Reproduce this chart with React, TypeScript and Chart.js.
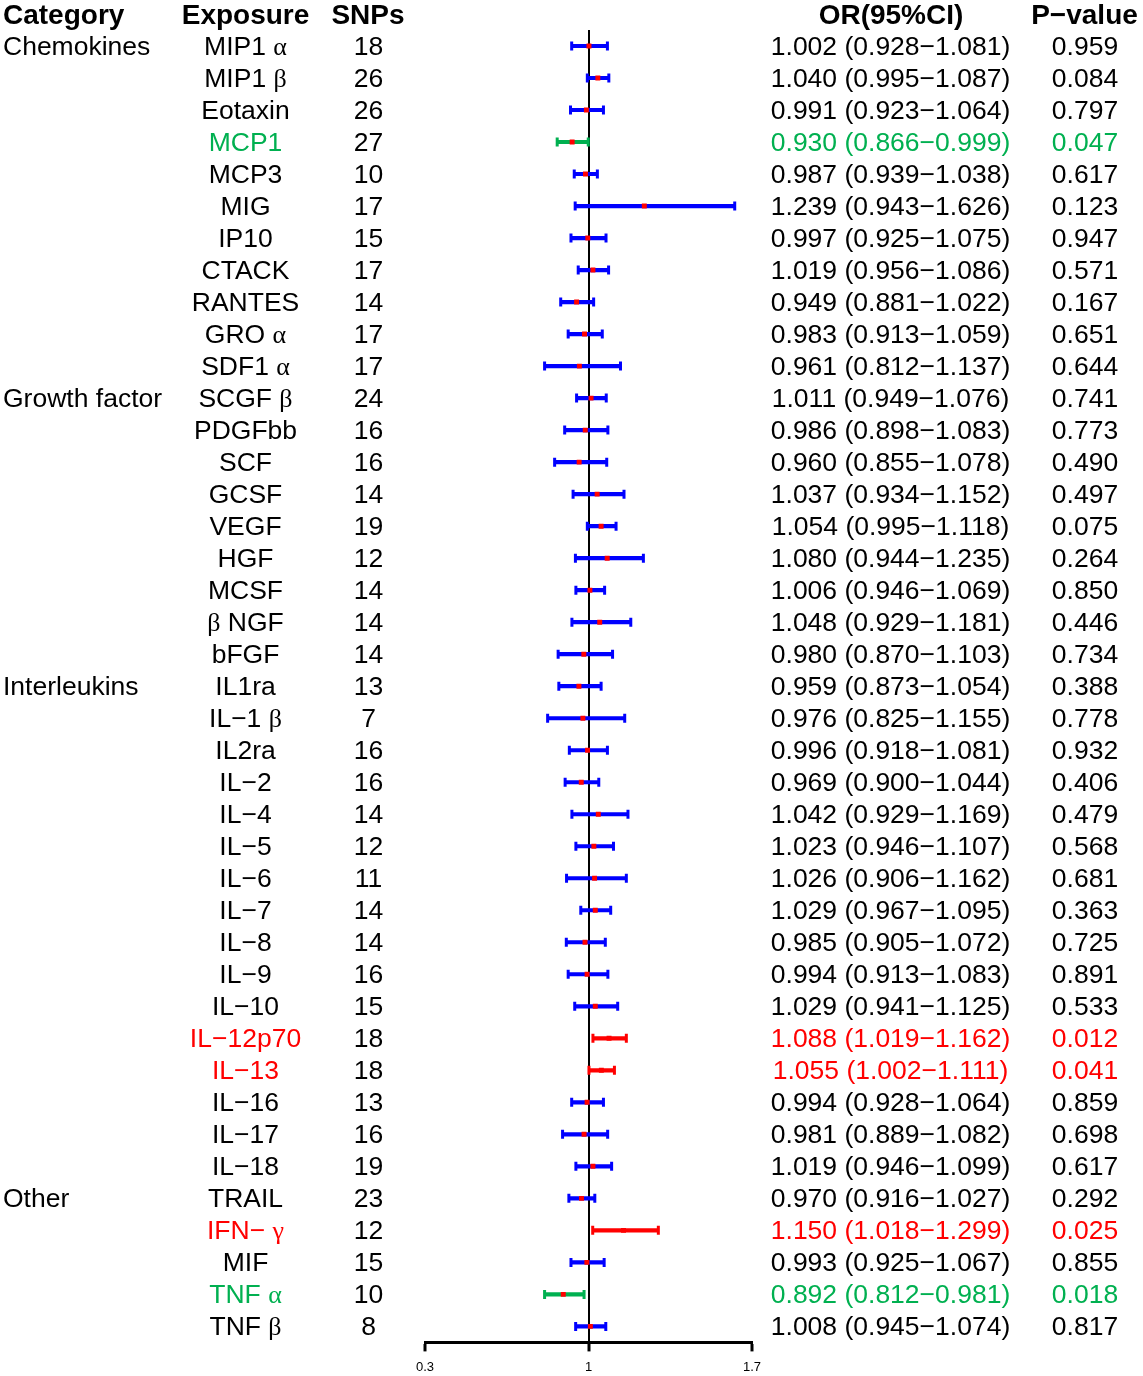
import React, { useEffect, useRef } from 'react';
import { Chart, registerables } from 'chart.js';

Chart.register(...registerables);

const categoryLabels = ['Chemokines', '', '', '', '', '', '', '', '', '', '',
  'Growth factor', '', '', '', '', '', '', '', '',
  'Interleukins', '', '', '', '', '', '', '', '', '', '', '', '', '', '', '',
  'Other', '', '', '', ''];

const exposures = ['MIP1 α', 'MIP1 β', 'Eotaxin', 'MCP1', 'MCP3', 'MIG', 'IP10', 'CTACK', 'RANTES', 'GRO α', 'SDF1 α',
  'SCGF β', 'PDGFbb', 'SCF', 'GCSF', 'VEGF', 'HGF', 'MCSF', 'β NGF', 'bFGF',
  'IL1ra', 'IL−1 β', 'IL2ra', 'IL−2', 'IL−4', 'IL−5', 'IL−6', 'IL−7', 'IL−8', 'IL−9', 'IL−10', 'IL−12p70', 'IL−13', 'IL−16', 'IL−17', 'IL−18',
  'TRAIL', 'IFN− γ', 'MIF', 'TNF α', 'TNF β'];

const snps = [18, 26, 26, 27, 10, 17, 15, 17, 14, 17, 17,
  24, 16, 16, 14, 19, 12, 14, 14, 14,
  13, 7, 16, 16, 14, 12, 11, 14, 14, 16, 15, 18, 18, 13, 16, 19,
  23, 12, 15, 10, 8];

const orValues = [1.002, 1.040, 0.991, 0.930, 0.987, 1.239, 0.997, 1.019, 0.949, 0.983, 0.961,
  1.011, 0.986, 0.960, 1.037, 1.054, 1.080, 1.006, 1.048, 0.980,
  0.959, 0.976, 0.996, 0.969, 1.042, 1.023, 1.026, 1.029, 0.985, 0.994, 1.029, 1.088, 1.055, 0.994, 0.981, 1.019,
  0.970, 1.150, 0.993, 0.892, 1.008];

const ciLow = [0.928, 0.995, 0.923, 0.866, 0.939, 0.943, 0.925, 0.956, 0.881, 0.913, 0.812,
  0.949, 0.898, 0.855, 0.934, 0.995, 0.944, 0.946, 0.929, 0.870,
  0.873, 0.825, 0.918, 0.900, 0.929, 0.946, 0.906, 0.967, 0.905, 0.913, 0.941, 1.019, 1.002, 0.928, 0.889, 0.946,
  0.916, 1.018, 0.925, 0.812, 0.945];

const ciHigh = [1.081, 1.087, 1.064, 0.999, 1.038, 1.626, 1.075, 1.086, 1.022, 1.059, 1.137,
  1.076, 1.083, 1.078, 1.152, 1.118, 1.235, 1.069, 1.181, 1.103,
  1.054, 1.155, 1.081, 1.044, 1.169, 1.107, 1.162, 1.095, 1.072, 1.083, 1.125, 1.162, 1.111, 1.064, 1.082, 1.099,
  1.027, 1.299, 1.067, 0.981, 1.074];

const pValues = [0.959, 0.084, 0.797, 0.047, 0.617, 0.123, 0.947, 0.571, 0.167, 0.651, 0.644,
  0.741, 0.773, 0.490, 0.497, 0.075, 0.264, 0.850, 0.446, 0.734,
  0.388, 0.778, 0.932, 0.406, 0.479, 0.568, 0.681, 0.363, 0.725, 0.891, 0.533, 0.012, 0.041, 0.859, 0.698, 0.617,
  0.292, 0.025, 0.855, 0.018, 0.817];

const xTicks = [0.3, 1, 1.7];

const headers = ['Category', 'Exposure', 'SNPs', 'OR(95%CI)', 'P−value'];

const BLUE = '#0000FF';
const RED = '#FF0000';
const GREEN = '#00B050';
const SANS = '"Liberation Sans", Arial, Helvetica, sans-serif';
const SERIF = '"Liberation Serif", "Times New Roman", serif';

const rowColor = (i: number) => (pValues[i] < 0.05 ? (orValues[i] > 1 ? RED : GREEN) : BLUE);
const textColor = (i: number) => (pValues[i] < 0.05 ? rowColor(i) : '#000000');

const isGreek = (ch: string) => /[\u0370-\u03FF]/.test(ch);

function drawRich(ctx: CanvasRenderingContext2D, text: string, x: number, cy: number, align: 'left' | 'center', color: string, size: number, bold: boolean) {
  const runs: { t: string; g: boolean }[] = [];
  for (const ch of text) {
    const g = isGreek(ch);
    if (runs.length && runs[runs.length - 1].g === g) runs[runs.length - 1].t += ch;
    else runs.push({ t: ch, g });
  }
  const fontFor = (g: boolean) => (g ? `${Math.round(size * 0.98)}px ${SERIF}` : `${bold ? 'bold ' : ''}${size}px ${SANS}`);
  let total = 0;
  const widths = runs.map((r) => {
    ctx.font = fontFor(r.g);
    const w = ctx.measureText(r.t).width;
    total += w;
    return w;
  });
  let cx = align === 'center' ? x - total / 2 : x;
  const baseline = cy + size * 0.358;
  ctx.fillStyle = color;
  ctx.textAlign = 'left';
  ctx.textBaseline = 'alphabetic';
  runs.forEach((r, k) => {
    ctx.font = fontFor(r.g);
    ctx.fillText(r.t, cx, baseline);
    cx += widths[k];
  });
}

const textPlugin = {
  id: 'forestText',
  afterDraw(chart: any) {
    const ctx: CanvasRenderingContext2D = chart.ctx;
    const ys = chart.scales.y;
    ctx.save();
    const hy = 14;
    const hs = 28;
    drawRich(ctx, headers[0], 3, hy, 'left', '#000', hs, true);
    drawRich(ctx, headers[1], 245.5, hy, 'center', '#000', hs, true);
    drawRich(ctx, headers[2], 368, hy, 'center', '#000', hs, true);
    drawRich(ctx, headers[3], 891, hy, 'center', '#000', hs, true);
    drawRich(ctx, headers[4], 1084.5, hy, 'center', '#000', hs, true);
    const bs = 26.5;
    exposures.forEach((name, i) => {
      const y = ys.getPixelForValue(i) - 0.5;
      const c = textColor(i);
      if (categoryLabels[i]) drawRich(ctx, categoryLabels[i], 3, y, 'left', '#000', bs, false);
      drawRich(ctx, name, 245.5, y, 'center', c, bs, false);
      drawRich(ctx, String(snps[i]), 368.5, y, 'center', '#000', bs, false);
      const orText = `${orValues[i].toFixed(3)} (${ciLow[i].toFixed(3)}−${ciHigh[i].toFixed(3)})`;
      drawRich(ctx, orText, 890.5, y, 'center', c, bs, false);
      drawRich(ctx, pValues[i].toFixed(3), 1085, y, 'center', c, bs, false);
    });
    ctx.restore();
  },
};

export default function App() {
  const ref = useRef<HTMLCanvasElement | null>(null);
  useEffect(() => {
    document.body.style.margin = '0';
    if (!ref.current) return;
    const colors = exposures.map((_, i) => rowColor(i));
    const chart = new Chart(ref.current, {
      type: 'bar',
      data: {
        labels: exposures,
        datasets: [
          {
            type: 'bar',
            indexAxis: 'y',
            data: ciLow.map((l, i) => [l, ciHigh[i]]),
            backgroundColor: colors,
            borderWidth: 0,
            barThickness: 3.5,
            order: 3,
          } as any,
          {
            type: 'line',
            indexAxis: 'y',
            data: ciLow,
            showLine: false,
            pointStyle: 'line',
            rotation: 90,
            pointRadius: 4.5,
            pointHoverRadius: 4.5,
            pointBorderWidth: 3,
            pointBorderColor: colors,
            pointBackgroundColor: colors,
            order: 2,
          } as any,
          {
            type: 'line',
            indexAxis: 'y',
            data: ciHigh,
            showLine: false,
            pointStyle: 'line',
            rotation: 90,
            pointRadius: 4.5,
            pointHoverRadius: 4.5,
            pointBorderWidth: 3,
            pointBorderColor: colors,
            pointBackgroundColor: colors,
            order: 2,
          } as any,
          {
            type: 'line',
            indexAxis: 'y',
            data: orValues,
            showLine: false,
            pointStyle: 'rect',
            pointRadius: 3.5,
            pointHoverRadius: 3.5,
            pointBorderWidth: 0,
            pointBackgroundColor: RED,
            pointBorderColor: RED,
            order: 1,
          } as any,
        ],
      },
      options: {
        indexAxis: 'y',
        animation: false,
        responsive: false,
        devicePixelRatio: 1,
        events: [],
        layout: { padding: { left: 425, right: 391, top: 30, bottom: 17 } },
        plugins: { legend: { display: false }, tooltip: { enabled: false } },
        scales: {
          x: {
            type: 'linear',
            min: 0.3,
            max: 1.7,
            afterBuildTicks: (s: any) => {
              s.ticks = xTicks.map((v) => ({ value: v }));
            },
            grid: {
              color: (c: any) => (c.tick && c.tick.value === 1 ? '#000000' : 'rgba(0,0,0,0)'),
              lineWidth: 2,
              drawTicks: true,
              tickLength: 9,
              tickColor: '#000000',
              tickWidth: 3,
            },
            border: { display: true, color: '#000000', width: 3 },
            ticks: {
              color: '#000000',
              font: { size: 13, family: SANS },
              padding: 8,
              autoSkip: false,
              maxRotation: 0,
              callback: (v: any) => String(v),
            },
          },
          y: {
            type: 'category',
            display: false,
            offset: true,
            grid: { display: false },
          },
        },
      } as any,
      plugins: [textPlugin],
    });
    return () => chart.destroy();
  }, []);
  return (
    <div style={{ width: 1143, height: 1376, overflow: 'hidden', position: 'relative' }}>
      <canvas ref={ref} width={1143} height={1400} style={{ display: 'block', width: 1143, height: 1400 }} />
    </div>
  );
}
